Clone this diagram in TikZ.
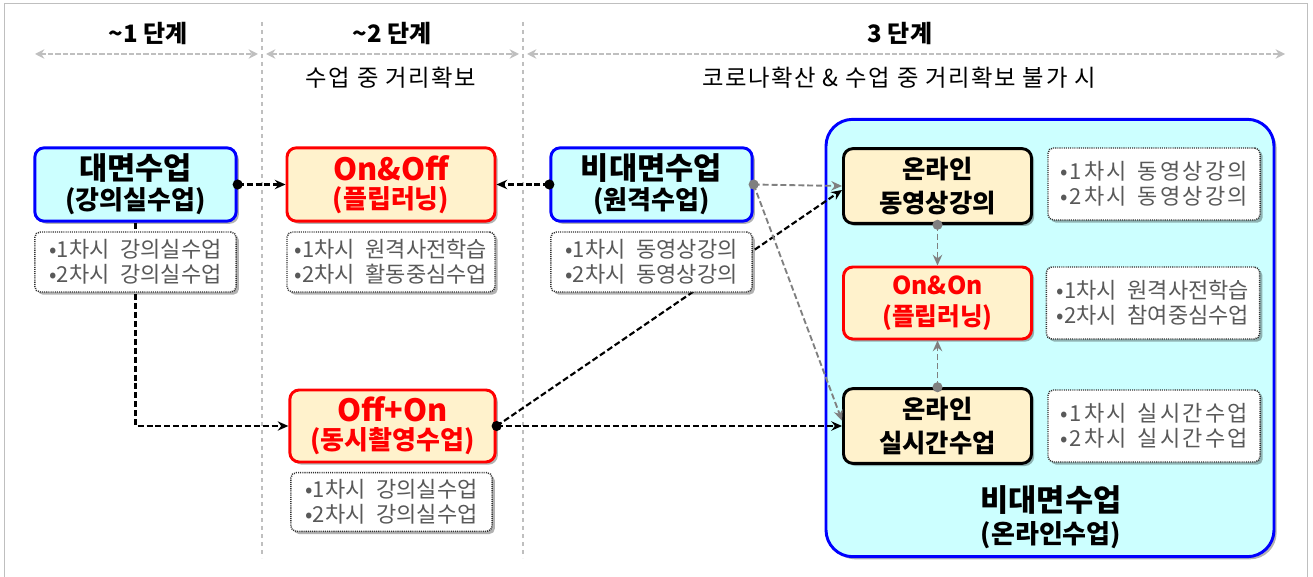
\documentclass[tikz,border=0pt]{standalone}
\usepackage{fontspec}
\setmainfont{Noto Sans CJK KR}
\usepackage{xcolor}
\usetikzlibrary{arrows.meta,shadows}
\definecolor{skyfill}{RGB}{204,255,255}
\definecolor{peach}{RGB}{255,242,204}
\definecolor{faceblue}{RGB}{0,0,255}
\definecolor{flipred}{RGB}{255,0,0}
\definecolor{memotext}{RGB}{89,89,89}
\definecolor{memoline}{RGB}{50,50,50}
\definecolor{spangray}{RGB}{191,191,191}
\definecolor{linkgray}{RGB}{128,128,128}
\newcommand\headfont{\fontsize{18pt}{21pt}\selectfont\bfseries}
\newcommand\leadfont{\fontsize{17.5pt}{21pt}\selectfont\addfontfeature{LetterSpace=7}}
\newcommand\bigtitle{\fontsize{23pt}{27pt}\selectfont\bfseries}
\newcommand\smalltitle{\fontsize{19.5pt}{24pt}\selectfont\bfseries}
\newcommand\boxtitle{\fontsize{19pt}{24pt}\selectfont\bfseries}
\newcommand\memofont{\fontsize{16.5pt}{19pt}\selectfont}
\newcommand\gap{\hspace{8pt}}

\begin{document}
\begin{tikzpicture}[x=0.75pt,y=-0.75pt,
  shade/.style={drop shadow={shadow xshift=2pt,shadow yshift=-2pt,opacity=0.3,fill=black}},
  face/.style={shade,draw=faceblue,fill=skyfill,line width=2.2pt,rounded corners=7pt,align=center,inner sep=0pt,minimum width=151pt,minimum height=55pt},
  flip/.style={face,draw=flipred,fill=peach,text=flipred},
  online/.style={face,draw=black,fill=peach,minimum width=141pt,minimum height=56pt,font=\boxtitle},
  memo/.style={shade,draw=memoline,fill=white,line width=1.1pt,dash pattern=on 0.8pt off 0.8pt,rounded corners=4pt,text=memotext,align=left,inner sep=0pt,minimum width=151pt,minimum height=45pt,font=\memofont},
  widememo/.style={memo,minimum width=159pt,minimum height=54pt,font=\memofont\addfontfeature{LetterSpace=10}},
  link/.style={black,line width=1.6pt,dash pattern=on 4.5pt off 2.2pt,-{Stealth[length=8pt,width=7pt]}},
  relay/.style={link,draw=linkgray,line width=1.4pt},
  span/.style={draw=spangray,line width=2pt,dash pattern=on 4pt off 1.5pt,{Stealth[length=7pt,width=7pt]}-{Stealth[length=7pt,width=7pt]}}]
\useasboundingbox (0,0) rectangle (1313,577);
\draw [spangray,line width=0.6pt] (4,577)--(4,3)--(1307,3)--(1307,577);
\draw [spangray,line width=0.8pt,dashed] (262,22)--(262,558);
\draw [spangray,line width=0.8pt,dashed] (523,22)--(523,558);
\coordinate (s1a) at (35,54); \coordinate (s1b) at (258,54);
\coordinate (s2a) at (266,54); \coordinate (s2b) at (519,54);
\coordinate (s3a) at (527,54); \coordinate (s3b) at (1285,54);
\draw [span] (s1a)--(s1b);
\draw [span] (s2a)--(s2b);
\draw [span] (s3a)--(s3b);
\node [font=\headfont] (h1) at (148,34) {\textasciitilde1 단계};
\node [font=\headfont] (h2) at (392,34) {\textasciitilde2 단계};
\node [font=\headfont] (h3) at (900,34) {3 단계};
\node [font=\leadfont] (l2) at (391,78) {수업 중 거리확보};
\node [font=\leadfont] (l3) at (899,78) {코로나확산 \& 수업 중 거리확보 불가 시};

\node [face,rounded corners=20pt,minimum width=336pt,minimum height=328pt] (remote) at (1050,338) {};
\node [align=center] (remotetag) at (1051,517) {\bigtitle 비대면수업\\[4pt]\smalltitle (온라인수업)};

\node [face] (inclass) at (135.5,184.5) {\bigtitle 대면수업\\[3pt]\smalltitle (강의실수업)};
\node [flip,minimum width=156pt] (onoff) at (391,184.5) {\bigtitle On\&Off\\[3pt]\smalltitle (플립러닝)};
\node [face] (distance) at (651.5,184.5) {\bigtitle 비대면수업\\[3pt]\smalltitle (원격수업)};
\node [flip,minimum width=154pt,minimum height=54pt] (offon) at (392.5,426) {\bigtitle Off+On\\[3pt]\smalltitle (동시촬영수업)};
\node [online] (vod) at (937.5,186) {온라인\\[1pt]동영상강의};
\node [flip,minimum width=141pt,minimum height=54pt,font=\fontsize{18.5pt}{23pt}\selectfont\bfseries] (onon) at (937.5,303) {On\&On\\(플립러닝)};
\node [online] (live) at (937.5,426) {온라인\\[1pt]실시간수업};

\coordinate (bend) at (inclass.south |- offon.west);
\draw [link] (inclass.east)--(onoff.west);
\draw [link] (distance.west)--(onoff.east);
\draw [link] (inclass.south)--(bend)--(offon.west);
\draw [link] (offon.east)--([yshift=-3pt]vod.west);
\draw [link] (offon.east)--(live.west);
\draw [relay] (distance.east)--(vod.west);
\draw [relay] (distance.east)--([yshift=4pt]live.west);
\draw [relay] (vod.south)--(onon.north);
\draw [relay] (live.north)--(onon.south);

\node [memo] (inclassmemo) at (135.5,262) {•1차시\gap 강의실수업\\•2차시\gap 강의실수업};
\node [memo,minimum width=156pt] (onoffmemo) at (391,262) {•1차시\gap 원격사전학습\\•2차시\gap 활동중심수업};
\node [memo] (distancememo) at (651.5,262) {•1차시\gap 동영상강의\\•2차시\gap 동영상강의};
\node [memo,minimum height=44pt] (offonmemo) at (391.5,502) {•1차시\gap 강의실수업\\•2차시\gap 강의실수업};
\node [widememo] (vodmemo) at (1154,184) {•1차시\gap 동영상강의\\•2차시\gap 동영상강의};
\node [memo,minimum width=160pt,minimum height=54pt] (ononmemo) at (1153,303) {•1차시\gap 원격사전학습\\•2차시\gap 참여중심수업};
\node [widememo] (livememo) at (1154,426) {•1차시\gap 실시간수업\\•2차시\gap 실시간수업};

\fill [black] (inclass.east) circle (3.8pt);
\fill [black] (distance.west) circle (3.8pt);
\fill [black] (offon.east) circle (3.8pt);
\fill [linkgray] (distance.east) circle (3.8pt);
\fill [linkgray] (vod.south) circle (3.8pt);
\fill [linkgray] (live.north) circle (3.8pt);
\end{tikzpicture}
\end{document}
